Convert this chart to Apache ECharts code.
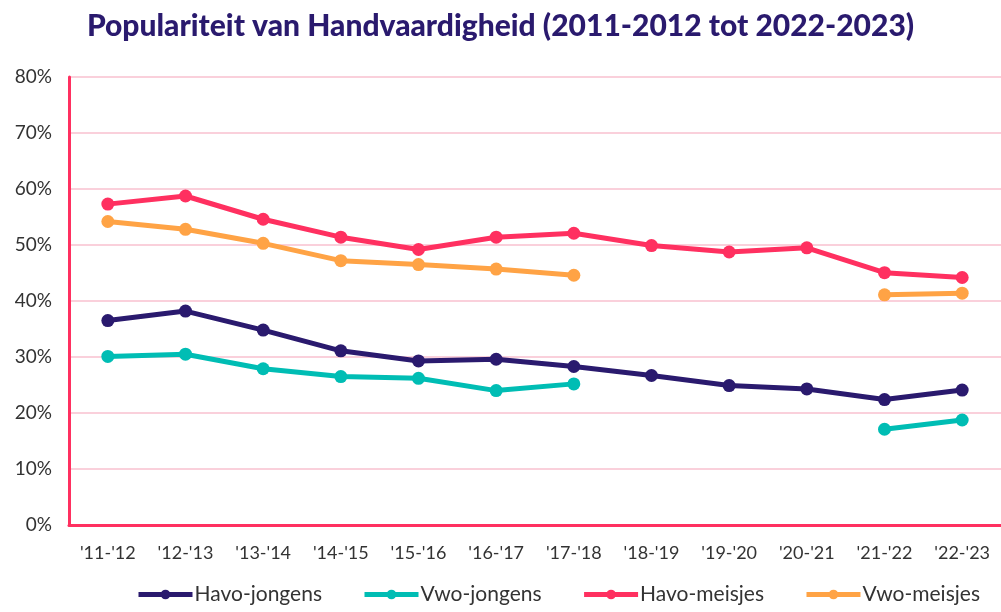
<!DOCTYPE html>
<html>
<head>
<meta charset="utf-8">
<script src="https://cdn.jsdelivr.net/npm/echarts@6/dist/echarts.min.js"></script>
<style>
  html, body { margin: 0; padding: 0; background: #fff; }
  #chart { width: 1001px; height: 612px; }
</style>
</head>
<body>
<div id="chart"></div>
<script>
// schooljaren
var categories = ["'11-'12", "'12-'13", "'13-'14", "'14-'15", "'15-'16", "'16-'17", "'17-'18", "'18-'19", "'19-'20", "'20-'21", "'21-'22", "'22-'23"]

// percentages per groep (null = geen data)
var havoJongens = [36.5, 38.2, 34.8, 31.1, 29.3, 29.6, 28.3, 26.7, 24.9, 24.3, 22.4, 24.1]
var vwoJongens = [30.1, 30.5, 27.9, 26.5, 26.2, 24.0, 25.2, null, null, null, 17.1, 18.75]
var havoMeisjes = [57.3, 58.75, 54.6, 51.4, 49.2, 51.4, 52.1, 49.9, 48.75, 49.5, 45.05, 44.2]
var vwoMeisjes = [54.2, 52.8, 50.3, 47.2, 46.5, 45.7, 44.6, null, null, null, 41.1, 41.4]

function lineSeries (name, data, color) {
  return {
    name: name,
    type: 'line',
    data: data,
    symbol: 'circle',
    symbolSize: 13,
    connectNulls: false,
    lineStyle: { color: color, width: 5 },
    itemStyle: { color: color },
    emphasis: { disabled: true }
  }
}

var option = {
  animation: false,
  title: {
    text: 'Populariteit van Handvaardigheid (2011-2012 tot 2022-2023)',
    left: 'center',
    top: 6,
    textStyle: {
      color: '#2a1a6e',
      fontFamily: 'Lato',
      fontWeight: 900,
      fontSize: 30
    }
  },
  legend: {
    bottom: 2,
    left: 131,
    itemWidth: 54,
    itemHeight: 12,
    itemGap: 40,
    lineStyle: { width: 5 },
    textStyle: { color: '#333', fontSize: 21, fontFamily: 'Lato', padding: [0, 0, 0, -3] }
  },
  grid: {
    left: 69,
    right: 0,
    top: 77,
    bottom: 87,
    containLabel: false
  },
  xAxis: {
    type: 'category',
    data: categories,
    boundaryGap: true,
    axisLine: { lineStyle: { color: '#ff3060', width: 3 } },
    axisTick: { show: false },
    axisLabel: { color: '#333', fontSize: 18, fontFamily: 'Lato', margin: 19 }
  },
  yAxis: {
    type: 'value',
    min: 0,
    max: 80,
    interval: 10,
    axisLine: { show: true, lineStyle: { color: '#ff3060', width: 3 } },
    axisTick: { show: false },
    splitLine: { lineStyle: { color: '#f9c0cf', width: 1.5 } },
    axisLabel: { color: '#333', fontSize: 19, fontFamily: 'Lato', margin: 17, formatter: '{value}%' }
  },
  series: [
    lineSeries('Havo-jongens', havoJongens, '#2a1a6e'),
    lineSeries('Vwo-jongens', vwoJongens, '#00bdb4'),
    lineSeries('Havo-meisjes', havoMeisjes, '#ff3060'),
    lineSeries('Vwo-meisjes', vwoMeisjes, '#ffa345')
  ]
}

var myChart = echarts.init(document.getElementById('chart'))
myChart.setOption(option)
</script>
</body>
</html>
